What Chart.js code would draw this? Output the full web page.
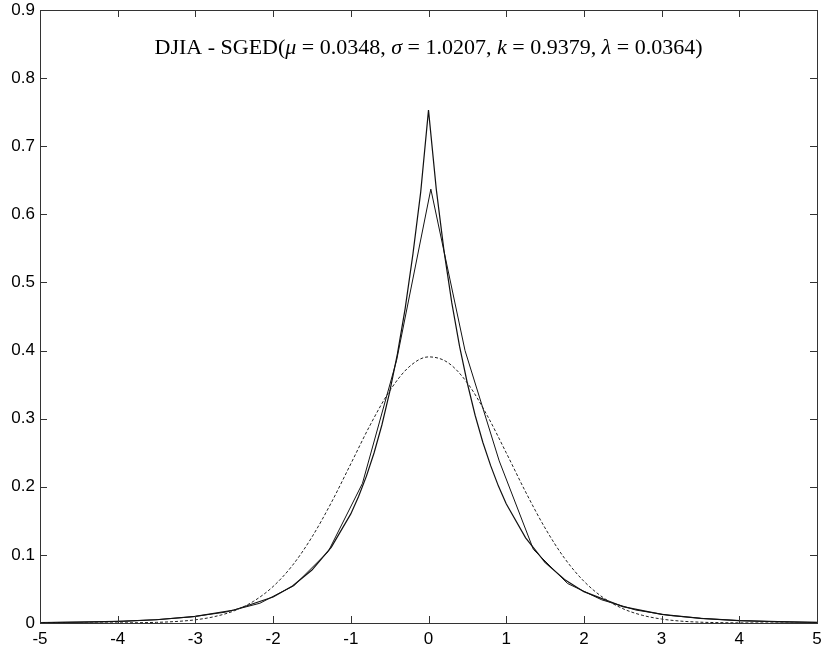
<!DOCTYPE html>
<html>
<head>
<meta charset="utf-8">
<title>DJIA - SGED</title>
<script src="https://cdn.jsdelivr.net/npm/chart.js@4/dist/chart.umd.min.js"></script>
<style>
    html, body { margin: 0; padding: 0; background: #fff; }
    #wrap { width: 823px; height: 649px; position: relative; }
</style>
</head>
<body>
<div id="wrap"><canvas id="densChart"></canvas></div>
<script>
// --- Data ---
const xTickLabels = ["-5", "-4", "-3", "-2", "-1", "0", "1", "2", "3", "4", "5"];
const yTickLabels = ["0", "0.1", "0.2", "0.3", "0.4", "0.5", "0.6", "0.7", "0.8", "0.9"];

// fitted SGED density (solid, sharp peak)
const sgedX = [-5, -4.5, -4, -3.5, -3, -2.5, -2, -1.75, -1.5, -1.25, -1, -0.9, -0.8, -0.7, -0.6, -0.5,
    -0.4, -0.3, -0.2, -0.1, 0, 0.1, 0.2, 0.3, 0.4, 0.5, 0.6, 0.7, 0.8, 0.9, 1, 1.25, 1.5, 1.75, 2,
    2.5, 3, 3.5, 4, 4.5, 5];
const sgedY = [0.0007, 0.0013, 0.0025, 0.0048, 0.0096, 0.0191, 0.0382, 0.0544, 0.0777, 0.1114, 0.1602,
    0.1856, 0.2153, 0.2500, 0.2907, 0.339, 0.395, 0.462, 0.542, 0.633, 0.753, 0.637, 0.546, 0.470,
    0.406, 0.352, 0.305, 0.265, 0.231, 0.201, 0.175, 0.125, 0.089, 0.064, 0.046, 0.024, 0.0126,
    0.0067, 0.0036, 0.0019, 0.001];

// empirical density (solid, polygon)
const empX = [-5, -4.81, -4.37, -3.93, -3.49, -3.05, -2.61, -2.17, -1.73, -1.29, -0.85, -0.41, 0.03,
    0.47, 0.91, 1.35, 1.79, 2.23, 2.67, 3.11, 3.55, 3.99, 4.43, 4.87, 5];
const empY = [0.0005, 0.0008, 0.0015, 0.0025, 0.005, 0.009, 0.016, 0.029, 0.055, 0.105, 0.205, 0.386,
    0.637, 0.400, 0.238, 0.108, 0.058, 0.034, 0.019, 0.011, 0.0065, 0.0035, 0.002, 0.001, 0.0008];

// normal density (dashed)
const normX = [-5, -4.75, -4.5, -4.25, -4, -3.75, -3.5, -3.25, -3, -2.75, -2.5, -2.25, -2, -1.75, -1.5,
    -1.25, -1, -0.75, -0.5, -0.25, 0, 0.25, 0.5, 0.75, 1, 1.25, 1.5, 1.75, 2, 2.25, 2.5, 2.75, 3,
    3.25, 3.5, 3.75, 4, 4.25, 4.5, 4.75, 5];
const normY = [0, 0, 0.00002, 0.00006, 0.00016, 0.0004, 0.00097, 0.0022, 0.0047, 0.0095, 0.0179, 0.0320,
    0.0536, 0.0847, 0.1262, 0.1769, 0.2337, 0.2908, 0.3407, 0.3760, 0.3907, 0.3823, 0.3524, 0.3058,
    0.2500, 0.1924, 0.1395, 0.0952, 0.0613, 0.0371, 0.0211, 0.0114, 0.0058, 0.00274, 0.0012, 0.00052,
    0.0002, 0.00008, 0.00003, 0.00001, 0];

const pts = (xs, ys) => xs.map((x, i) => ({ x: x, y: ys[i] }));

// --- Plugins ---
const titleParts = [
    ["DJIA - SGED(", false], ["\u03bc", true], [" = 0.0348, ", false],
    ["\u03c3", true], [" = 1.0207, ", false], ["k", true], [" = 0.9379, ", false],
    ["\u03bb", true], [" = 0.0364)", false],
];

const innerTitle = {
    id: "innerTitle",
    afterDraw(chart) {
        const ctx = chart.ctx;
        const a = chart.chartArea;
        const fam = "'Liberation Serif', 'Times New Roman', serif";
        ctx.save();
        ctx.fillStyle = "#000";
        ctx.textBaseline = "alphabetic";
        let total = 0;
        titleParts.forEach(p => {
            ctx.font = (p[1] ? "italic " : "") + "22px " + fam;
            total += ctx.measureText(p[0]).width;
        });
        let x = (a.left + a.right) / 2 - total / 2;
        titleParts.forEach(p => {
            ctx.font = (p[1] ? "italic " : "") + "22px " + fam;
            ctx.fillText(p[0], x, a.top + 44);
            x += ctx.measureText(p[0]).width;
        });
        ctx.restore();
    },
};

const boxTicks = {
    id: "boxTicks",
    afterDraw(chart) {
        const ctx = chart.ctx;
        const a = chart.chartArea;
        const sx = chart.scales.x, sy = chart.scales.y;
        const len = 7;
        ctx.save();
        ctx.strokeStyle = "#333";
        ctx.lineWidth = 1;
        ctx.beginPath();
        sx.ticks.forEach(t => {
            const px = Math.round(sx.getPixelForValue(t.value)) + 0.5;
            ctx.moveTo(px, a.bottom); ctx.lineTo(px, a.bottom - len);
            ctx.moveTo(px, a.top); ctx.lineTo(px, a.top + len);
        });
        sy.ticks.forEach(t => {
            const py = Math.round(sy.getPixelForValue(t.value)) + 0.5;
            ctx.moveTo(a.left, py); ctx.lineTo(a.left + len, py);
            ctx.moveTo(a.right, py); ctx.lineTo(a.right - len, py);
        });
        ctx.stroke();
        ctx.strokeRect(Math.round(a.left) + 0.5, Math.round(a.top) + 0.5,
            Math.round(a.right - a.left), Math.round(a.bottom - a.top));
        ctx.restore();
    },
};

// --- Chart setup ---
const ctx = document.getElementById("densChart").getContext("2d");
const densChart = new Chart(ctx, {
    type: "line",
    data: {
        datasets: [
            {
                label: "Normal",
                data: pts(normX, normY),
                borderColor: "#222",
                borderWidth: 1,
                borderDash: [3, 2],
                cubicInterpolationMode: "monotone",
                pointRadius: 0,
                fill: false,
            },
            {
                label: "Empirical",
                data: pts(empX, empY),
                borderColor: "#111",
                borderWidth: 1,
                tension: 0,
                pointRadius: 0,
                fill: false,
            },
            {
                label: "SGED",
                data: pts(sgedX, sgedY),
                borderColor: "#111",
                borderWidth: 1.2,
                tension: 0,
                pointRadius: 0,
                fill: false,
            },
        ],
    },
    options: {
        responsive: true,
        maintainAspectRatio: false,
        animation: false,
        layout: { padding: 0 },
        scales: {
            x: {
                type: "linear",
                min: -5,
                max: 5,
                ticks: {
                    stepSize: 1,
                    color: "#000",
                    padding: 6,
                    maxRotation: 0,
                    font: { family: "'Liberation Sans', Arial, sans-serif", size: 17 },
                    callback: (v, i) => xTickLabels[i],
                },
                grid: { display: false, drawTicks: false },
                border: { display: false },
                afterFit: s => { s.height = 26; s.paddingLeft = 0; s.paddingRight = 6; },
            },
            y: {
                min: 0,
                max: 0.9,
                ticks: {
                    stepSize: 0.1,
                    color: "#000",
                    padding: 5,
                    font: { family: "'Liberation Sans', Arial, sans-serif", size: 17 },
                    callback: (v, i) => yTickLabels[i],
                },
                grid: { display: false, drawTicks: false },
                border: { display: false },
                afterFit: s => { s.width = 40; s.paddingTop = 10; s.paddingBottom = 0; },
            },
        },
        plugins: {
            legend: { display: false },
            tooltip: { enabled: false },
        },
    },
    plugins: [innerTitle, boxTicks],
});
</script>
</body>
</html>
